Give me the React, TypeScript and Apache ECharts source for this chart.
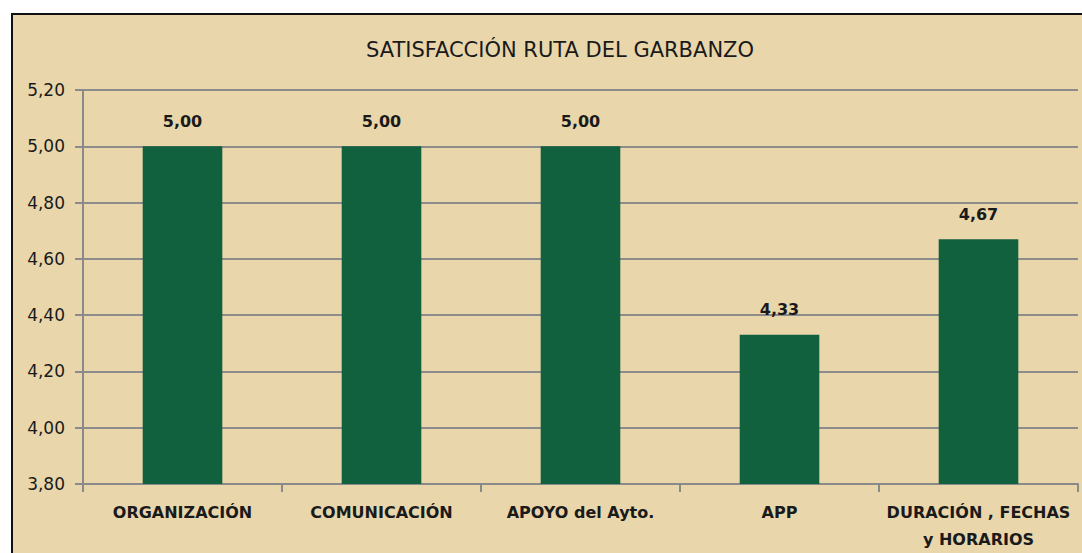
import React, { useEffect, useRef } from "react";
import * as echarts from "echarts";

const title = "SATISFACCIÓN RUTA DEL GARBANZO";
const categories = ["ORGANIZACIÓN", "COMUNICACIÓN", "APOYO del Ayto.", "APP", "DURACIÓN , FECHAS\ny HORARIOS"];
const values = [5.0, 5.0, 5.0, 4.33, 4.67];
const yMin = 3.8;
const yMax = 5.2;
const yStep = 0.2;

const fmt = (v: number) => v.toFixed(2).replace(".", ",");
const FONT = "DejaVu Sans";

export default function App() {
  const ref = useRef<HTMLDivElement>(null);
  useEffect(() => {
    const chart = echarts.init(ref.current!, null, { renderer: "svg" });
    chart.setOption({
      animation: false,
      backgroundColor: "#ffffff",
      graphic: [
        {
          type: "rect",
          z: -10,
          silent: true,
          shape: { x: 12, y: 14, width: 1080, height: 560 },
          style: { fill: "#E9D6AB", stroke: "#111111", lineWidth: 2 },
        },
      ],
      title: {
        text: title,
        left: 555,
        textAlign: "center",
        top: 34,
        textStyle: { fontFamily: FONT, fontSize: 21, fontWeight: "normal", color: "#1a1a1a" },
      },
      grid: { left: 83, right: 4, top: 90, bottom: 62 },
      xAxis: {
        type: "category",
        data: categories,
        axisLine: { lineStyle: { color: "#8a8a8a", width: 2 } },
        axisTick: { show: true, length: 8, lineStyle: { color: "#8a8a8a", width: 2 } },
        axisLabel: {
          margin: 15,
          fontFamily: FONT,
          fontSize: 16,
          fontWeight: "bold",
          color: "#1a1a1a",
          lineHeight: 27,
          interval: 0,
        },
      },
      yAxis: {
        type: "value",
        min: yMin,
        max: yMax,
        interval: yStep,
        axisLine: { show: true, lineStyle: { color: "#8a8a8a", width: 2 } },
        axisTick: { show: true, length: 8, lineStyle: { color: "#8a8a8a", width: 2 } },
        splitLine: { lineStyle: { color: "#8c8c8c", width: 2 } },
        axisLabel: {
          margin: 18,
          fontFamily: FONT,
          fontSize: 17,
          color: "#1a1a1a",
          formatter: (v: number) => fmt(v),
        },
      },
      series: [
        {
          type: "bar",
          data: values,
          barWidth: "40%",
          itemStyle: { color: "#11603E" },
          label: {
            show: true,
            position: "top",
            distance: 17,
            fontFamily: FONT,
            fontSize: 16,
            fontWeight: "bold",
            color: "#1a1a1a",
            formatter: (p: any) => fmt(p.value),
          },
        },
      ],
    });
    return () => chart.dispose();
  }, []);
  return (
    <div
      ref={ref}
      style={{ position: "fixed", left: 0, top: 0, width: 1082, height: 553 }}
    />
  );
}
